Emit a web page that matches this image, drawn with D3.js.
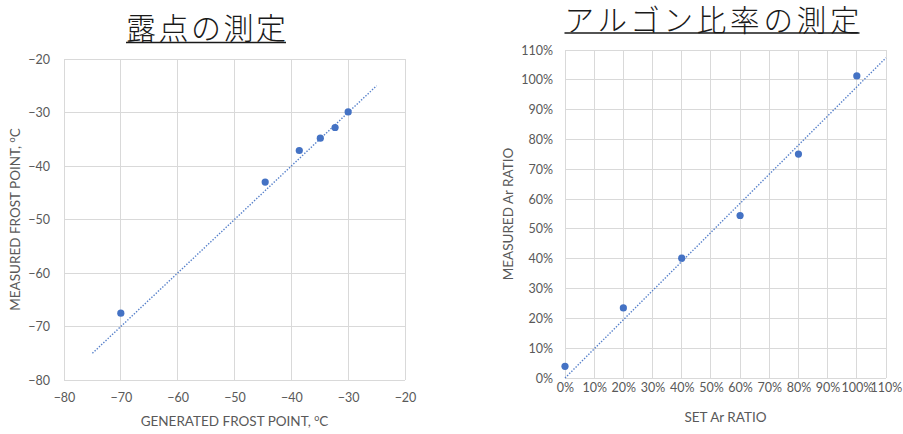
<!DOCTYPE html>
<html>
<head>
<meta charset="utf-8">
<script src="https://cdn.jsdelivr.net/npm/d3@7"></script>
<style>
  html, body { margin: 0; padding: 0; background: #fff; }
  svg { display: block; }
</style>
</head>
<body>
<svg id="chart" width="903" height="434"></svg>
<script>
// ---- Frost point measurement ----
const frostTitle = "露点の測定";
const frostGenerated = [-70, -44.6, -38.6, -34.9, -32.3, -30.0];
const frostMeasured  = [-67.5, -43.0, -37.1, -34.8, -32.8, -29.9];
const frostTrendX = [-75, -25];
const frostTrendY = [-75, -25];
const frostXTicks = [-80, -70, -60, -50, -40, -30, -20];
const frostYTicks = [-80, -70, -60, -50, -40, -30, -20];

// ---- Argon ratio measurement ----
const argonTitle = "アルゴン比率の測定";
const argonSet      = [0, 0.2, 0.4, 0.6, 0.8, 1.0];
const argonMeasured = [0.039, 0.235, 0.402, 0.545, 0.751, 1.013];
const argonTrendX = [0, 1.1];
const argonTrendY = [0, 1.074];
const argonTicks = [0, 0.1, 0.2, 0.3, 0.4, 0.5, 0.6, 0.7, 0.8, 0.9, 1.0, 1.1];

const BLUE = "#4472C4";
const GRID = "#d9d9d9";
const LABEL = "#595959";
const FONT = "Lato, 'Liberation Sans', sans-serif";
const CJK = "'Noto Sans CJK JP', 'Noto Sans CJK SC', sans-serif";

const svg = d3.select("#chart");

function drawPanel(cfg) {
  const x = d3.scaleLinear().domain(cfg.xDomain).range([cfg.left, cfg.right]);
  const y = d3.scaleLinear().domain(cfg.yDomain).range([cfg.bottom, cfg.top]);
  const g = svg.append("g");

  // gridlines
  g.append("g").selectAll("line").data(cfg.xTicks).join("line")
    .attr("x1", d => x(d)).attr("x2", d => x(d))
    .attr("y1", cfg.top).attr("y2", cfg.bottom)
    .attr("stroke", GRID).attr("stroke-width", 1).attr("shape-rendering", "crispEdges");
  g.append("g").selectAll("line").data(cfg.yTicks).join("line")
    .attr("x1", cfg.left).attr("x2", cfg.right)
    .attr("y1", d => y(d)).attr("y2", d => y(d))
    .attr("stroke", GRID).attr("stroke-width", 1).attr("shape-rendering", "crispEdges");

  // axes (labels only; the frame comes from the grid)
  const xAxis = d3.axisBottom(x).tickValues(cfg.xTicks).tickFormat(cfg.fmt).tickSize(0).tickPadding(0);
  const gx = g.append("g").attr("transform", `translate(0,${cfg.bottom + cfg.xLabelOffset})`).call(xAxis);
  const yAxis = d3.axisLeft(y).tickValues(cfg.yTicks).tickFormat(cfg.fmt).tickSize(0).tickPadding(0);
  const gy = g.append("g").attr("transform", `translate(${cfg.left - cfg.yLabelGap},0)`).call(yAxis);
  [gx, gy].forEach(a => {
    a.select(".domain").remove();
    a.selectAll("text").attr("fill", LABEL).style("font-family", FONT).style("font-size", "12.5px");
  });
  gx.selectAll("text").attr("dy", "0.35em").attr("y", 0);

  // trend line
  const line = d3.line().x(d => x(d[0])).y(d => y(d[1]));
  g.append("path")
    .datum(d3.zip(cfg.trendX, cfg.trendY))
    .attr("d", line)
    .attr("fill", "none").attr("stroke", BLUE).attr("stroke-width", 1.4)
    .attr("stroke-dasharray", "1.4,1.6").attr("opacity", 0.9);

  // points
  g.append("g").selectAll("circle").data(d3.zip(cfg.xs, cfg.ys)).join("circle")
    .attr("cx", d => x(d[0])).attr("cy", d => y(d[1])).attr("r", 3.6)
    .attr("fill", BLUE);

  // axis titles
  const xt = g.append("text")
    .attr("x", (cfg.left + cfg.right) / 2).attr("y", cfg.xTitleY)
    .attr("text-anchor", "middle").attr("dy", "0.35em")
    .attr("fill", LABEL).style("font-family", FONT).style("font-size", "13.5px");
  cfg.xTitle(xt);
  const yt = g.append("text")
    .attr("transform", `translate(${cfg.yTitleX},${(cfg.top + cfg.bottom) / 2}) rotate(-90)`)
    .attr("text-anchor", "middle").attr("dy", "0.35em")
    .attr("fill", LABEL).style("font-family", FONT).style("font-size", "13.5px");
  cfg.yTitle(yt);

  // chart title with underline
  const t = g.append("text")
    .attr("x", cfg.titleX + cfg.titleSpacing / 2).attr("y", cfg.titleY)
    .attr("text-anchor", "middle")
    .attr("fill", "#1a1a1a").style("font-family", CJK)
    .style("font-weight", 300)
    .style("font-size", cfg.titleSize + "px")
    .style("letter-spacing", cfg.titleSpacing + "px")
    .text(cfg.title);
  const bb = t.node().getBBox();
  g.append("line")
    .attr("x1", bb.x).attr("x2", bb.x + bb.width - cfg.titleSpacing)
    .attr("y1", cfg.underlineY).attr("y2", cfg.underlineY)
    .attr("stroke", "#1a1a1a").attr("stroke-width", 1.6);
}

function degreeTitle(prefix) {
  return sel => {
    sel.append("tspan").text(prefix);
    sel.append("tspan").attr("baseline-shift", "super").style("font-size", "9px").text("o");
    sel.append("tspan").text("C");
  };
}

drawPanel({
  left: 64, right: 405, top: 59, bottom: 380,
  xDomain: [-80, -20], yDomain: [-80, -20],
  xTicks: frostXTicks, yTicks: frostYTicks,
  fmt: d3.format("d"),
  xs: frostGenerated, ys: frostMeasured,
  trendX: frostTrendX, trendY: frostTrendY,
  xLabelOffset: 18, yLabelGap: 14,
  xTitleY: 421, yTitleX: 15.5,
  xTitle: degreeTitle("GENERATED FROST POINT, "),
  yTitle: degreeTitle("MEASURED FROST POINT, "),
  title: frostTitle, titleX: 206, titleY: 38.5, titleSize: 30, titleSpacing: 2.5,
  underlineY: 42.5
});

drawPanel({
  left: 565, right: 886, top: 50, bottom: 378,
  xDomain: [0, 1.1], yDomain: [0, 1.1],
  xTicks: argonTicks, yTicks: argonTicks,
  fmt: d3.format(".0%"),
  xs: argonSet, ys: argonMeasured,
  trendX: argonTrendX, trendY: argonTrendY,
  xLabelOffset: 10, yLabelGap: 12,
  xTitleY: 417.5, yTitleX: 508,
  xTitle: s => s.text("SET Ar RATIO"),
  yTitle: s => s.text("MEASURED Ar RATIO"),
  title: argonTitle, titleX: 712, titleY: 30.5, titleSize: 29.5, titleSpacing: 3.8,
  underlineY: 33
});
</script>
</body>
</html>
